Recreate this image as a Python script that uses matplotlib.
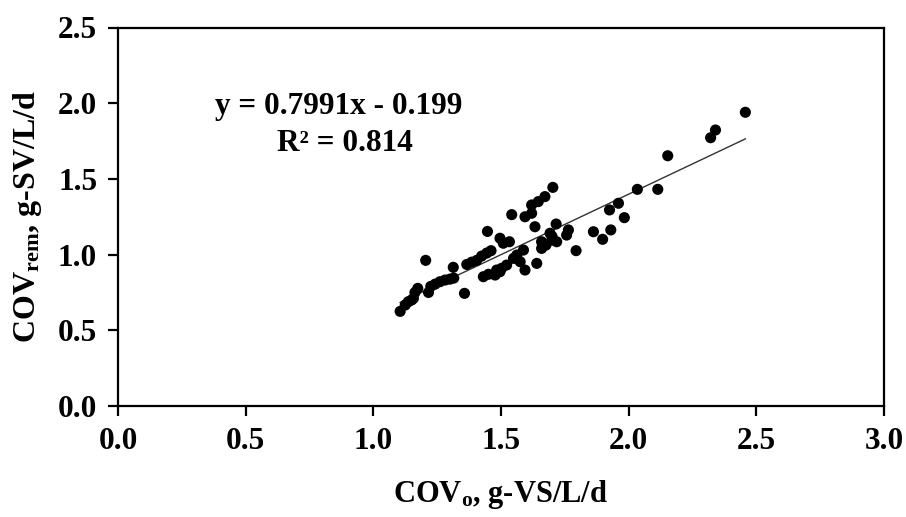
import matplotlib
matplotlib.use("Agg")
import matplotlib.pyplot as plt
import numpy as np

# Organic loading rate applied vs. removed
cov_o = [1.105, 1.125, 1.137, 1.150, 1.157, 1.163, 1.174, 1.205, 1.216, 1.225,
         1.242, 1.261, 1.281, 1.300, 1.315, 1.313, 1.357, 1.366, 1.385, 1.405,
         1.424, 1.444, 1.461, 1.447, 1.431, 1.451, 1.477, 1.496, 1.483, 1.502,
         1.522, 1.496, 1.509, 1.533, 1.542, 1.549, 1.562, 1.575, 1.588, 1.594,
         1.594, 1.620, 1.620, 1.646, 1.672, 1.703, 1.633, 1.640, 1.659, 1.659,
         1.676, 1.692, 1.699, 1.700, 1.718, 1.716, 1.757, 1.764, 1.794, 1.862,
         1.898, 1.930, 1.925, 1.960, 1.983, 2.034, 2.114, 2.153, 2.321, 2.340,
         2.457]
cov_rem = [0.625, 0.667, 0.689, 0.700, 0.711, 0.750, 0.777, 0.962, 0.750, 0.790,
           0.805, 0.821, 0.832, 0.838, 0.845, 0.916, 0.744, 0.935, 0.950, 0.962,
           0.990, 1.010, 1.026, 1.153, 0.854, 0.870, 0.865, 0.887, 0.898, 0.909,
           0.931, 1.108, 1.075, 1.085, 1.264, 0.975, 0.997, 0.953, 1.030, 0.898,
           1.250, 1.273, 1.328, 1.350, 1.383, 1.444, 1.184, 0.942, 1.085, 1.041,
           1.063, 1.141, 1.096, 1.120, 1.085, 1.202, 1.129, 1.163, 1.026, 1.151,
           1.101, 1.163, 1.295, 1.339, 1.244, 1.431, 1.431, 1.653, 1.772, 1.823,
           1.940]

# Linear trend line
slope = 0.7991
intercept = -0.199
r2 = 0.814

x_ticks = [0.0, 0.5, 1.0, 1.5, 2.0, 2.5, 3.0]
y_ticks = [0.0, 0.5, 1.0, 1.5, 2.0, 2.5]

plt.rcParams['font.family'] = ['Liberation Serif', 'DejaVu Serif']
plt.rcParams['mathtext.fontset'] = 'custom'
plt.rcParams['mathtext.rm'] = 'Liberation Serif:bold'
plt.rcParams['mathtext.it'] = 'Liberation Serif:bold'
plt.rcParams['mathtext.bf'] = 'Liberation Serif:bold'

fig = plt.figure(figsize=(9.06, 5.17), dpi=100)
ax = fig.add_axes([118 / 906, 1 - 406 / 517, 766 / 906, 378.5 / 517])

ax.scatter(cov_o, cov_rem, s=64, color='black', edgecolors='none', zorder=3)

xl = np.array([min(cov_o), max(cov_o)])
ax.plot(xl, slope * xl + intercept, color='#333333', lw=1.0, zorder=2)

ax.set_xlim(0, 3.0)
ax.set_ylim(0, 2.5)
ax.set_xticks(x_ticks)
ax.set_yticks(y_ticks)
ax.set_xticklabels([f"{t:.1f}" for t in x_ticks])
ax.set_yticklabels([f"{t:.1f}" for t in y_ticks])

for s in ax.spines.values():
    s.set_linewidth(1.6)
    s.set_color('black')
ax.tick_params(axis='both', direction='out', length=7, width=1.6,
               labelsize=22.5, pad=8)
for lab in ax.get_xticklabels() + ax.get_yticklabels():
    lab.set_fontweight('bold')

ax.set_xlabel(r'COV$_{\mathrm{o}}$, g-VS/L/d', fontsize=22, fontweight='bold',
              labelpad=16)
ax.set_ylabel(r'COV$_{\mathrm{rem}}$, g-SV/L/d', fontsize=23, fontweight='bold',
              labelpad=10)

# Trend line equation and coefficient of determination
ax.text(0.865, 1.975, f"y = {slope:.4f}x - {abs(intercept):.3f}",
        fontsize=22.5, fontweight='bold', ha='center', va='center')
ax.text(0.89, 1.735, f"R² = {r2:.3f}",
        fontsize=22.5, fontweight='bold', ha='center', va='center')

fig.savefig('out.png', dpi=100)
